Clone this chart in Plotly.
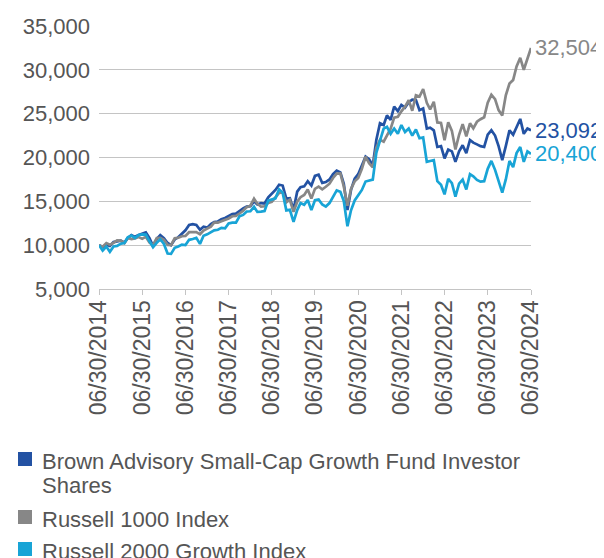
import pandas as pd
import plotly.graph_objects as go

# Month-end dates, 06/30/2014 .. 06/30/2024
dates = pd.date_range("2014-06-30", "2024-06-30", freq="ME")

fund_name = "Brown Advisory Small-Cap Growth Fund Investor Shares"
r1000_name = "Russell 1000 Index"
r2g_name = "Russell 2000 Growth Index"

fund = [
    10000, 9800, 10050, 9900, 10350, 10400, 10500, 10300, 10800, 11150, 10950, 11150, 11300,
    11450, 10800, 9900, 10700, 11150, 10800, 10250, 10000, 10650, 10900, 11300, 11700,
    12300, 12400, 12300, 11750, 12100, 12000, 12400, 12650, 12700, 12950, 13100, 13350,
    13550, 13600, 13900, 14200, 14400, 14450, 15000, 14650, 14800, 14750, 15450, 15850,
    16300, 16900, 16800, 15300, 15350, 14050, 16100, 16600, 16700, 17300, 16800, 17900,
    18050, 17100, 17200, 17500, 18100, 18500, 18300, 17000, 14000, 16300, 17600, 18100,
    19100, 20100, 19800, 19100, 22000, 23900, 23700, 24800, 24300, 25800, 25300, 26000,
    25700, 26300, 26600, 26550, 25400, 25600, 23300, 23400, 23100, 21200, 21300, 19900,
    20900, 20700, 19500, 20700, 21400, 20500, 22000, 21700, 21500, 21300, 21200, 22600,
    23100, 22500, 21300, 19700, 21300, 23100, 22600, 23400, 24400, 22700, 23300, 23092,
]

r1000 = [
    10000, 9830, 10230, 10040, 10270, 10540, 10520, 10230, 10820, 10690, 10770, 10920, 10740,
    10945, 10290, 10010, 10810, 10820, 10605, 10030, 10010, 10780, 10840, 11020, 11050,
    11480, 11490, 11480, 11240, 11670, 11890, 12120, 12570, 12580, 12720, 12870, 13040,
    13300, 13330, 13610, 13920, 14340, 14500, 15300, 14730, 14390, 14440, 14810, 14930,
    15450, 15960, 16020, 14880, 15180, 13800, 14960, 15470, 15730, 16360, 15310, 16430,
    16680, 16380, 16660, 17010, 17660, 18170, 18190, 16700, 14500, 16410, 17280, 17660,
    18700, 20100, 19360, 18890, 21120, 22010, 21810, 22440, 23290, 24550, 24650, 25270,
    25800, 26550, 25330, 27100, 26960, 27800, 26240, 25480, 26350, 24000, 23950, 21980,
    24020, 23040, 20920, 22590, 23810, 22400, 23900, 23330, 24080, 24370, 24590, 26240,
    27150, 26660, 25410, 24800, 27100, 28430, 28830, 30390, 31360, 30010, 31420, 32504,
]

r2g = [
    10000, 9390, 9840, 9240, 9850, 9910, 10170, 10250, 10900, 11100, 10800, 11150, 11230,
    11200, 10440, 9780, 10270, 10670, 10140, 9040, 9000, 9700, 9850, 10070, 10020,
    10610, 10700, 10840, 10150, 11070, 11230, 11430, 11690, 11760, 11970, 11920, 12470,
    12570, 12560, 13300, 13450, 13840, 13870, 14380, 13790, 13820, 13890, 15080, 15200,
    15340, 16380, 15990, 13970, 14030, 12650, 14000, 14800, 14600, 15150, 14000, 15130,
    15220, 14640, 14400, 14800, 15550, 16250, 16080, 15030, 12150, 13980, 15100, 15660,
    16300, 17260, 17330, 17470, 20540, 21870, 23300, 23500, 22700, 23300, 22700, 23700,
    22900, 23300, 22500, 23200, 22200, 22300, 19500, 19600, 19700, 17300, 16900, 15790,
    17560, 17080, 15540, 17020, 17480, 16360, 18100, 17850, 17450, 17250, 17300, 18710,
    19610, 18590, 17360, 16000, 17500, 19600, 18900, 20500, 21200, 19500, 20700, 20400,
]

tick_dates = ["2014-06-30", "2015-06-30", "2016-06-30", "2017-06-30", "2018-06-30",
              "2019-06-30", "2020-06-30", "2021-06-30", "2022-06-30", "2023-06-30",
              "2024-06-30"]
tick_text = ["06/30/2014", "06/30/2015", "06/30/2016", "06/30/2017", "06/30/2018",
             "06/30/2019", "06/30/2020", "06/30/2021", "06/30/2022", "06/30/2023",
             "06/30/2024"]
y_ticks = [5000, 10000, 15000, 20000, 25000, 30000, 35000]

series = [
    (fund_name, fund, "#2352A3"),
    (r1000_name, r1000, "#878787"),
    (r2g_name, r2g, "#18A4D6"),
]

FONT = "Liberation Sans, Arial, sans-serif"
TXT = "#555555"

# figure sits 8px in from the page corner (default body margin);
# it runs past the bottom of the window, so the last legend row is clipped
OFF = 8
W, H = 596, 600
ML, MR, MT = 91, 73, 18
PLOT_H = 263
MB = H - MT - PLOT_H
PW, PH = W - ML - MR, PLOT_H


def px(page_x):
    return (page_x - OFF - ML) / PW


def py(page_y):
    return (MT + PH - (page_y - OFF)) / PH


fig = go.Figure()
for name, vals, col in series:
    fig.add_trace(go.Scatter(x=dates, y=vals, mode="lines", name=name,
                             line=dict(color=col, width=2.7), showlegend=False,
                             hoverinfo="skip"))

# end-value labels
for name, vals, col in series:
    fig.add_annotation(x=dates[-1], y=vals[-1], text=f"{vals[-1]:,.0f}",
                       showarrow=False, xanchor="left", yanchor="middle", xshift=2,
                       font=dict(family=FONT, size=22, color=col))

# legend drawn below the chart: square swatch + wrapped label lines
legend_rows = [
    (series[0], ["Brown Advisory Small-Cap Growth Fund Investor", "Shares"], 459),
    (series[1], [r1000_name], 517),
    (series[2], [r2g_name], 549),
]
for (name, vals, col), lines, yc in legend_rows:
    fig.add_shape(type="rect", xref="paper", yref="paper",
                  x0=px(18), x1=px(32), y0=py(yc - 7), y1=py(yc + 7),
                  fillcolor=col, line=dict(width=0), layer="above")
    for i, line in enumerate(lines):
        fig.add_annotation(xref="paper", yref="paper", x=px(40), y=py(yc + 2 + 25 * i),
                           text=line, showarrow=False, xanchor="left", yanchor="middle",
                           font=dict(family=FONT, size=22, color=TXT))

fig.update_layout(
    width=W, height=H,
    margin=dict(l=ML, r=MR, t=MT, b=MB, autoexpand=False),
    paper_bgcolor="white", plot_bgcolor="white",
    font=dict(family=FONT, size=22, color=TXT),
    showlegend=False,
)
fig.update_xaxes(
    type="date", range=["2014-06-30", "2024-06-30"], tickmode="array",
    tickvals=tick_dates, ticktext=tick_text, automargin=False,
    tickangle=-90, showgrid=False, showline=True, linecolor="#C4C4C4", linewidth=1,
    ticks="outside", ticklen=5, tickcolor="#C4C4C4", tickwidth=1,
    ticklabelstandoff=-4,
    tickfont=dict(family=FONT, size=23, color=TXT), zeroline=False,
)
fig.update_yaxes(
    range=[5000, 35000], tickmode="array", tickvals=y_ticks, tickformat=",",
    showgrid=True, gridcolor="#C4C4C4", gridwidth=1, zeroline=False, showline=False,
    ticks="", ticklabelstandoff=8, automargin=False,
    tickfont=dict(family=FONT, size=22, color=TXT),
)

fig.write_html("out.html")
